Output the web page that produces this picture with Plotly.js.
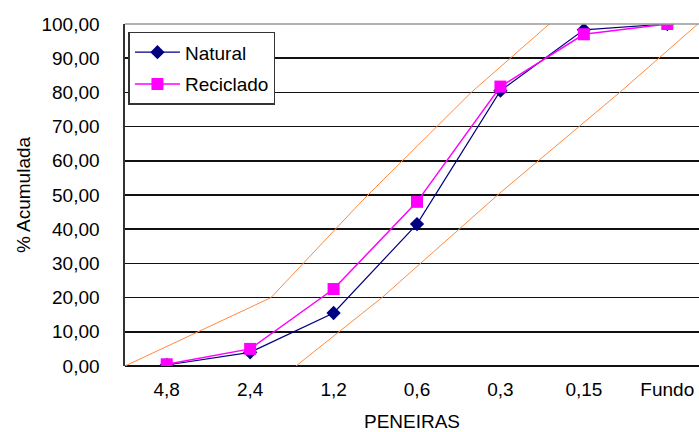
<!DOCTYPE html>
<html>
<head>
<meta charset="utf-8">
<script src="https://cdn.plot.ly/plotly-3.0.1.min.js"></script>
<style>html,body{margin:0;padding:0;background:#fff;}#chart{width:699px;height:432px;}</style>
</head>
<body>
<div id="chart"></div>
<script>
// Categories (sieve openings) and accumulated % retained
const categories = ["4,8", "2,4", "1,2", "0,6", "0,3", "0,15", "Fundo"];
const catPos = [0, 1, 2, 3, 4, 5, 6];
const natural = [0.3, 4.0, 15.5, 41.5, 80.5, 98.3, 100.0];
const reciclado = [0.5, 5.0, 22.5, 48.0, 81.7, 97.0, 100.0];
// Orange limit envelope lines (positions in category units)
const limitAx = [-0.5, 1.25, 2.35, 3.65, 4.6];
const limitAy = [0, 20, 48.5, 80, 100.3];
const limitBx = [1.55, 2.58, 3.99, 5.43, 6.6];
const limitBy = [0, 20, 50.5, 80, 105];
const yTicks = [0, 10, 20, 30, 40, 50, 60, 70, 80, 90, 100];

const FONT = "Liberation Sans, Arial, sans-serif";
const orange = "#FF8A3D";
const FS = 19;

const traces = [
  {x: limitAx, y: limitAy, mode: "lines", line: {color: orange, width: 1}, showlegend: false, hoverinfo: "skip"},
  {x: limitBx, y: limitBy, mode: "lines", line: {color: orange, width: 1}, showlegend: false, hoverinfo: "skip"},
  {x: catPos, y: natural, name: "Natural", mode: "lines+markers", legendgroup: "a",
   line: {color: "#000080", width: 1.2}, marker: {symbol: "diamond", size: 11, color: "#000080"}},
  {x: catPos, y: reciclado, name: "Reciclado", mode: "lines+markers", legendgroup: "b",
   line: {color: "#FF00FF", width: 1.5}, marker: {symbol: "square", size: 12, color: "#FF00FF"}}
];

const layout = {
  width: 699, height: 432,
  margin: {l: 125, r: 0, t: 24, b: 66},
  paper_bgcolor: "#fff", plot_bgcolor: "#fff",
  separators: ",.",
  font: {family: FONT, size: FS, color: "#000"},
  showlegend: true,
  legend: {
    x: 0.006, y: 0.977, xanchor: "left", yanchor: "top",
    bgcolor: "#fff", bordercolor: "#333", borderwidth: 1.5,
    font: {family: FONT, size: FS, color: "#000"},
    traceorder: "grouped", tracegroupgap: 4, itemwidth: 45
  },
  xaxis: {
    range: [-0.5, 6.38],
    tickvals: catPos, ticktext: categories,
    showgrid: false, zeroline: false, showline: false,
    ticks: "", ticklabelstandoff: 10,
    tickfont: {family: FONT, size: FS, color: "#000"},
    title: {text: "PENEIRAS", font: {family: FONT, size: FS, color: "#000"}, standoff: 20}
  },
  yaxis: {
    range: [0, 100],
    tickvals: yTicks, tickformat: ".2f",
    showgrid: true, gridcolor: "#111", gridwidth: 1.6,
    zeroline: true, zerolinecolor: "#111", zerolinewidth: 1.6,
    showline: true, linecolor: "#333", linewidth: 1.6,
    ticks: "", ticklabelstandoff: 20,
    tickfont: {family: FONT, size: FS, color: "#000"},
    title: {text: "% Acumulada", font: {family: FONT, size: FS, color: "#000"}, standoff: 6}
  },
  shapes: [
    {type: "line", xref: "paper", yref: "paper", x0: 0, x1: 1, y0: 1, y1: 1,
     line: {color: "#9a9a9a", width: 1.6}, layer: "above"}
  ]
};

Plotly.newPlot("chart", traces, layout, {displayModeBar: false, staticPlot: true});
</script>
</body>
</html>
